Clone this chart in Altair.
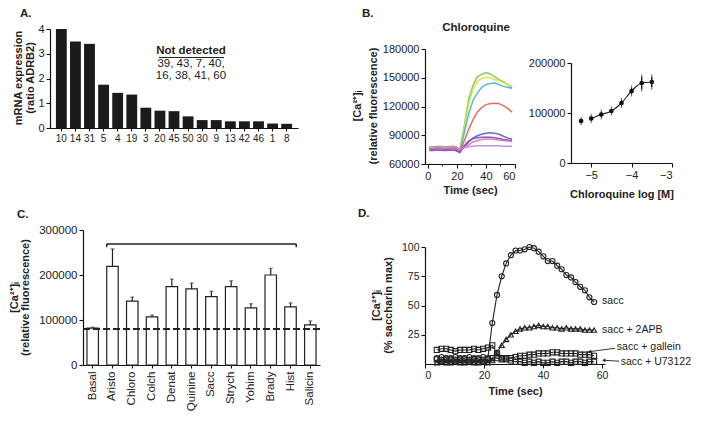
import altair as alt
import pandas as pd

FONT = "Liberation Sans"
INK = "#222"

# ---------------- Panel A data ----------------
a_ids = ["10", "14", "31", "5", "4", "19", "3", "20", "45", "50", "30", "9", "13", "42", "46", "1", "8"]
a_vals = [4.0, 3.5, 3.4, 1.75, 1.42, 1.35, 0.82, 0.70, 0.68, 0.47, 0.32, 0.32, 0.27, 0.27, 0.27, 0.18, 0.17]
a_nd_title = "Not detected"
a_nd_lines = ["39, 43, 7, 40,", "16, 38, 41, 60"]

# ---------------- Panel B (time course) ----------------
b_times = [1, 4, 7, 10, 13, 16, 19, 22, 25, 28, 31, 34, 37, 40, 43, 46, 49, 52, 55, 58]
b_green = [77000, 77000, 77500, 77000, 77500, 77000, 77500, 74000, 99000, 127000, 142000, 151000, 153500, 155500, 154000, 151000, 148000, 146000, 143000, 140000]
b_yellow = [78000, 78000, 78000, 78500, 78000, 78000, 78500, 74500, 97000, 122000, 138000, 146000, 149000, 150500, 150000, 148000, 147000, 145000, 143000, 141000]
b_cyan = [75000, 75000, 75500, 75000, 75000, 75500, 75000, 73000, 92000, 112000, 126000, 134000, 140000, 143000, 144000, 144500, 143000, 141000, 140000, 139000]
b_red = [76000, 76000, 76500, 76000, 76000, 76500, 76000, 73000, 84000, 96000, 106000, 114000, 119000, 122000, 123000, 123500, 123000, 121000, 118000, 114000]
b_blue = [76000, 76000, 76500, 76000, 76000, 76000, 76500, 72500, 78000, 83000, 87000, 89500, 91000, 92000, 92500, 92000, 91000, 89000, 87000, 86000]
b_purple = [74000, 74000, 74500, 74000, 74000, 74500, 74000, 72000, 79000, 84000, 86500, 87500, 88000, 88000, 88000, 87500, 86500, 85500, 85000, 84500]
b_magenta = [76000, 76500, 76000, 76000, 76500, 76000, 76000, 74000, 77000, 80000, 83000, 84500, 85500, 86000, 86000, 85500, 85000, 84500, 84000, 83500]
b_lavender = [78000, 78000, 78500, 78000, 78000, 78500, 78000, 76000, 77000, 78000, 78500, 79000, 79000, 79000, 79000, 79000, 79000, 78500, 78500, 78500]
b_names = ["green", "yellow", "cyan", "red", "blue", "purple", "magenta", "lavender"]
b_colors = ["#79c943", "#d8e043", "#3fb3d6", "#e8584a", "#4f62c4", "#8d45b5", "#e36bb8", "#b98ad6"]
b_minor_ticks = [10, 30, 50]

# ---------------- Panel B (dose response) ----------------
br_x = [-5.25, -5.0, -4.75, -4.5, -4.25, -4.0, -3.75, -3.5]
br_y = [84000, 89000, 97000, 104000, 120000, 144000, 160000, 162000]
br_err = [3000, 4000, 5000, 4000, 5000, 6000, 12000, 10000]

# ---------------- Panel C ----------------
c_cats = ["Basal", "Aristo", "Chloro", "Colch", "Denat", "Quinine", "Sacc", "Strych", "Yohim", "Brady", "Hist", "Salicin"]
c_vals = [82000, 219000, 142000, 107000, 174000, 169000, 152000, 174000, 127000, 200000, 129000, 89000]
c_err = [2000, 39000, 9000, 4000, 17000, 13000, 12000, 13000, 9000, 15000, 9000, 9000]
c_basal = 80000
c_bracket = 269000
c_bracket_tip = 262000

# ---------------- Panel D ----------------
d_t = [4.0, 5.6, 7.2, 8.7, 10.3, 11.9, 13.4, 15.0, 16.6, 18.1, 19.7, 21.3, 22.8, 24.4, 26.0, 27.5, 29.1, 30.7,
       32.2, 33.8, 35.4, 36.9, 38.5, 40.1, 41.6, 43.2, 44.8, 46.3, 47.9, 49.5, 51.0, 52.6, 54.2, 55.7, 57.3]
d_sacc = [5, 6, 5, 5, 6, 5, 5, 6, 5, 5, 6, 5,
          35, 59, 75, 86, 93, 97, 97, 98, 100, 99, 96, 92, 88, 88, 84, 81, 76, 74, 70, 66, 63, 57, 53]
d_2apb = [1, 2, 1, 1, 2, 1, 1, 2, 1, 1, 2, 1,
          3, 10, 16, 21, 25, 28, 30, 31, 31, 32, 33, 32, 32, 31, 31, 30, 31, 30, 30, 30, 29, 29, 29]
d_gallein = [4, 3, 4, 4, 3, 4, 4, 3, 4, 4, 3, 4,
             5, 5, 4, 5, 5, 6, 7, 7, 8, 8, 9, 9, 9, 10, 10, 9, 9, 9, 9, 8, 8, 8, 7]
d_u73122 = [12, 13, 13, 12, 11, 12, 12, 12, 13, 12, 13, 14,
            16, 9, 5, 4, 3, 2, 2, 1, 2, 1, 2, 1, 1, 2, 1, 2, 2, 1, 2, 2, 1, 2, 2]
d_labels = ["sacc", "sacc + 2APB", "sacc + gallein", "sacc + U73122"]
d_label_x = [60.0, 60.0, 65.0, 66.3]
d_label_y = [54, 29, 14.5, 1.7]
d_arrow_from_t = [64.4, 65.8]
d_arrow_from_v = [13.4, 2.4]
d_arrow_to_t = [55.8, 60.6]
d_arrow_to_v = [10.6, 3.2]

AX = dict(labelFont=FONT, labelFontSize=11, labelColor=INK, titleFont=FONT, titleFontSize=11,
          titleFontWeight="bold", titleColor=INK, domainColor="#111", tickColor="#111",
          grid=False, tickSize=4, domainWidth=1.2, tickWidth=1.1, labelPadding=2)


def text_at(txt, x, y, size=11.5, weight="bold", align="left", baseline="middle", color=INK, angle=0):
    return alt.Chart(pd.DataFrame({"t": [txt]})).mark_text(
        font=FONT, fontSize=size, fontWeight=weight, align=align, baseline=baseline,
        color=color, angle=angle
    ).encode(text="t:N", x=alt.value(x), y=alt.value(y))


def vtitle(txt, x, y, size=11):
    return text_at(txt, x, y, size=size, weight="bold", align="center", baseline="middle", angle=270)


# Every panel cell starts at its own origin; plots sit inside the cell through scale ranges
# and a negative axis offset, so the layout does not depend on label bounds.

# ======== Panel A ========
dfA = pd.DataFrame({"id": a_ids, "v": a_vals})
barsA = alt.Chart(dfA).mark_bar(color="#1b1b1b").encode(
    x=alt.X("id:N", sort=a_ids,
            scale=alt.Scale(domain=a_ids, range=[42, 290], paddingInner=0.23, paddingOuter=0.42),
            axis=alt.Axis(title=None, labelAngle=0, tickSize=3, labelPadding=2, labelFontSize=10)),
    y=alt.Y("v:Q", scale=alt.Scale(domain=[0, 4], range=[120, 21]),
            axis=alt.Axis(values=[0, 1, 2, 3, 4], title=None, offset=-42)),
)
panelA = alt.layer(
    barsA,
    text_at(a_nd_title, 183, 43, size=11.5, weight="bold", align="center"),
    text_at(a_nd_lines[0], 183, 55.5, size=11.5, weight="normal", align="center"),
    text_at(a_nd_lines[1], 183, 68, size=11.5, weight="normal", align="center"),
    alt.Chart(pd.DataFrame({"a": [0]})).mark_rule(color=INK, strokeWidth=1).encode(
        x=alt.value(151), x2=alt.value(216), y=alt.value(49.5)),
    vtitle("mRNA expression", 10.5, 70),
    vtitle("(ratio ADRB2)", 22.5, 70),
    text_at("A.", 12, 0, baseline="top"),
).properties(width=337, height=120)

# ======== Panel B left ========
rows = []
for name, vals in zip(b_names, [b_green, b_yellow, b_cyan, b_red, b_blue, b_purple, b_magenta, b_lavender]):
    for t, v in zip(b_times, vals):
        rows.append({"s": name, "t": t, "v": v})
dfBL = pd.DataFrame(rows)
xBL = alt.X("t:Q", scale=alt.Scale(domain=[-2, 60], nice=False, range=[80, 170]),
            axis=alt.Axis(values=[0, 20, 40, 60], title="Time (sec)", titlePadding=3))
linesBL = alt.Chart(dfBL).mark_line(strokeWidth=1.5, opacity=0.9).encode(
    x=xBL,
    y=alt.Y("v:Q", scale=alt.Scale(domain=[60000, 180000], nice=False, range=[156, 41]),
            axis=alt.Axis(values=[60000, 90000, 120000, 150000, 180000], format="d", title=None,
                          offset=-80)),
    color=alt.Color("s:N", scale=alt.Scale(domain=b_names, range=b_colors), legend=None),
    detail="s:N",
)
minorBL = alt.Chart(pd.DataFrame({"t": b_minor_ticks})).mark_rule(color="#111", strokeWidth=1).encode(
    x=xBL, y=alt.value(156), y2=alt.value(158.5))
panelBL = alt.layer(
    linesBL, minorBL,
    vtitle("[Ca²⁺]ᵢ", 13, 98),
    vtitle("(relative fluorescence)", 28.5, 98),
    text_at("B.", 17, 0, baseline="top"),
    text_at("Chloroquine", 131, 20, size=11.5, align="center"),
).properties(width=175, height=156)

# ======== Panel B right ========
dfBR = pd.DataFrame({"x": br_x, "y": br_y, "lo": [a - b for a, b in zip(br_y, br_err)],
                     "hi": [a + b for a, b in zip(br_y, br_err)]})
xBR = alt.X("x:Q", scale=alt.Scale(domain=[-5.5, -3], nice=False, range=[51, 152]),
            axis=alt.Axis(values=[-5, -4, -3], title="Chloroquine log [M]", titlePadding=8))
yBR = alt.Y("y:Q", scale=alt.Scale(domain=[0, 200000], nice=False, range=[155, 55]),
            axis=alt.Axis(values=[0, 50000, 100000, 150000, 200000], format="d", title=None, offset=-51))
fitBR = alt.Chart(dfBR).transform_filter("datum.x >= -5.0").mark_line(
    color=INK, strokeWidth=1.2, interpolate="monotone").encode(x=xBR, y=yBR)
ptsBR = alt.Chart(dfBR).mark_point(filled=True, color="#111", size=22, opacity=1).encode(x=xBR, y=yBR)
errBR = alt.Chart(dfBR).mark_rule(color="#111", strokeWidth=1.2).encode(x=xBR, y="lo:Q", y2="hi:Q")
capLo = alt.Chart(dfBR).mark_tick(color="#111", thickness=1, size=5).encode(x=xBR, y="lo:Q")
capHi = alt.Chart(dfBR).mark_tick(color="#111", thickness=1, size=5).encode(x=xBR, y="hi:Q")
panelBR = alt.layer(errBR, capLo, capHi, fitBR, ptsBR).properties(width=160, height=155)

# ======== Panel C ========
dfC = pd.DataFrame({"c": c_cats, "v": c_vals, "hi": [a + b for a, b in zip(c_vals, c_err)]})
scC = alt.Scale(domain=c_cats, range=[75, 312], paddingInner=0.42, paddingOuter=0.2)
xC = alt.X("c:N", sort=c_cats, scale=scC,
           axis=alt.Axis(title=None, labelAngle=-90, tickSize=3, labelPadding=3, labelFontSize=11.5))
yC = alt.Y("v:Q", scale=alt.Scale(domain=[0, 300000], nice=False, range=[160, 25]),
           axis=alt.Axis(values=[0, 50000, 100000, 150000, 200000, 250000, 300000], format="d", title=None,
                         labelFontSize=11.5, offset=-75))
errC = alt.Chart(dfC).mark_rule(color=INK, strokeWidth=1.2).encode(x=xC, y="v:Q", y2="hi:Q")
capC = alt.Chart(dfC).mark_tick(color=INK, thickness=1, size=4).encode(x=xC, y="hi:Q")
barsC = alt.Chart(dfC).mark_bar(fill="white", stroke=INK, strokeWidth=1.2).encode(x=xC, y=yC)
dashC = alt.Chart(pd.DataFrame({"b": [c_basal]})).mark_rule(
    color=INK, strokeWidth=1.8, strokeDash=[7, 3]).encode(y="b:Q", x=alt.value(75), x2=alt.value(312))
brC = pd.DataFrame({"a": ["Aristo"], "b": ["Hist"], "y": [c_bracket], "y2": [c_bracket_tip]})
bracket = alt.Chart(brC).mark_rule(color=INK, strokeWidth=1.5).encode(
    x=alt.X("a:N", bandPosition=0, scale=scC), x2=alt.X2("b:N", bandPosition=1), y="y:Q")
tipL = alt.Chart(brC).mark_rule(color=INK, strokeWidth=1.5).encode(
    x=alt.X("a:N", bandPosition=0, scale=scC), y="y:Q", y2="y2:Q")
tipR = alt.Chart(brC).mark_rule(color=INK, strokeWidth=1.5).encode(
    x=alt.X("b:N", bandPosition=1, scale=scC), y="y:Q", y2="y2:Q")
panelC = alt.layer(
    errC, capC, barsC, dashC, bracket, tipL, tipR,
    vtitle("[Ca²⁺]ᵢ", 6.5, 92.5),
    vtitle("(relative fluorescence)", 17.5, 92.5),
    text_at("C.", 9, 4, baseline="top"),
).properties(width=342, height=160)

# ======== Panel D ========
xD = alt.X("t:Q", scale=alt.Scale(domain=[0, 61], nice=False, range=[75, 255]),
           axis=alt.Axis(values=[0, 20, 40, 60], title="Time (sec)", titlePadding=5,
                         labelFontSize=10.5, titleFontSize=11))
yD = alt.Y("v:Q", scale=alt.Scale(domain=[0, 100], nice=False, range=[159, 42]),
           axis=alt.Axis(values=[25, 50, 75, 100], title=None, labelFontSize=10.5, offset=-75))


def series(vals, shape):
    df = pd.DataFrame({"t": d_t, "v": vals})
    line = alt.Chart(df).mark_line(color=INK, strokeWidth=1.1).encode(x=xD, y=yD)
    pts = alt.Chart(df).mark_point(shape=shape, filled=False, color=INK, size=26,
                                   strokeWidth=1.1, opacity=1).encode(x=xD, y=yD)
    return [line, pts]


dfLab = pd.DataFrame({"t": d_label_x, "v": d_label_y, "lab": d_labels})
labD = alt.Chart(dfLab).mark_text(font=FONT, fontSize=10.5, color=INK, align="left",
                                  baseline="middle").encode(x=xD, y=yD, text="lab:N")
dfArr = pd.DataFrame({"t": d_arrow_from_t, "v": d_arrow_from_v, "t2": d_arrow_to_t, "v2": d_arrow_to_v})
arrD = alt.Chart(dfArr).mark_rule(color=INK, strokeWidth=0.9).encode(x=xD, y=yD, x2="t2:Q", y2="v2:Q")
dfHead = pd.DataFrame({"t": d_arrow_to_t, "v": d_arrow_to_v})
headD = alt.Chart(dfHead).mark_point(shape="triangle-left", filled=True, color=INK, size=14,
                                     opacity=1).encode(x=xD, y=yD)
layersD = (series(d_u73122, "square") + series(d_gallein, "square") + series(d_2apb, "triangle-up")
           + series(d_sacc, "circle"))
panelD = alt.layer(
    *layersD, labD, arrD, headD,
    vtitle("[Ca²⁺]ᵢ", 27, 100.5),
    vtitle("(% saccharin max)", 38.5, 100.5),
    text_at("D.", 8, 3, baseline="top"),
).properties(width=330, height=159)

top = alt.hconcat(panelA, panelBL, panelBR, spacing=0, bounds="flush")
bottom = alt.hconcat(panelC, panelD, spacing=0, bounds="flush")
chart = alt.vconcat(top, bottom, spacing=6).properties(
    padding={"left": 0, "top": 0, "right": 0, "bottom": 0}
).configure_view(stroke=None).configure_axis(**AX)

chart.save("out.html", embed_options={"renderer": "svg", "actions": False})
